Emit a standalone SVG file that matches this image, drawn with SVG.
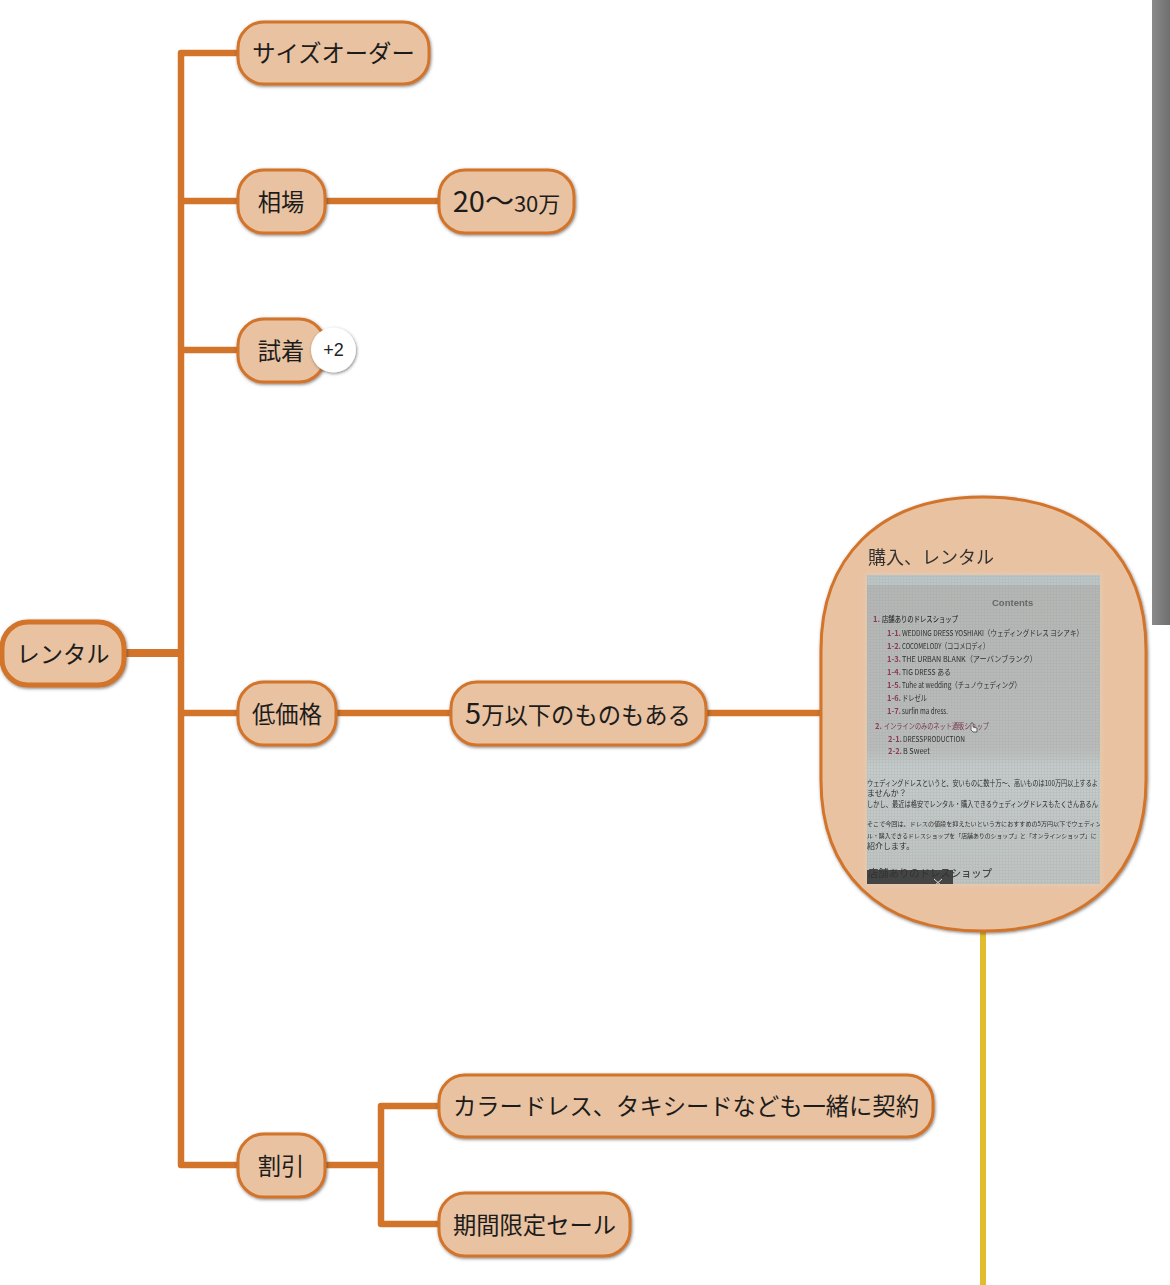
<svg xmlns="http://www.w3.org/2000/svg" width="1170" height="1285" viewBox="0 0 1170 1285">
<defs>
<filter id="sh" x="-20%" y="-20%" width="140%" height="140%"><feDropShadow dx=".8" dy="1.2" stdDeviation="1.4" flood-color="#333" flood-opacity=".6"/></filter>
<filter id="blur" x="-5%" y="-5%" width="110%" height="110%"><feGaussianBlur stdDeviation=".6"/></filter>
<filter id="soft" x="-5%" y="-5%" width="110%" height="110%"><feGaussianBlur stdDeviation=".4"/></filter>
<filter id="glow" x="-5%" y="-5%" width="110%" height="110%"><feGaussianBlur stdDeviation="2"/></filter>
<linearGradient id="bar" x1="0" x2="1" y1="0" y2="0"><stop offset="0" stop-color="#8a8a8a"/><stop offset="1" stop-color="#6f6f6f"/></linearGradient>
<linearGradient id="ph" x1="0" x2="0" y1="0" y2="1"><stop offset="0" stop-color="#b4b6b4"/><stop offset=".56" stop-color="#b9bcba"/><stop offset=".62" stop-color="#c4cbca"/><stop offset="1" stop-color="#bfc4c2"/></linearGradient>
<pattern id="moire" width="3" height="3" patternUnits="userSpaceOnUse"><path d="M0 .5H3M.5 0V3" stroke="#8f9693" stroke-width=".7" opacity=".2"/></pattern>
<clipPath id="phc"><rect x="867" y="575" width="233" height="309"/></clipPath>
<style>
.n{fill:#e9c2a1;stroke:#d2742a;stroke-width:3;filter:url(#sh)}
.t{font-family:"Noto Sans CJK JP","Noto Sans CJK SC",sans-serif;font-size:23.300px;fill:#1c1c1c;text-anchor:middle}
.c{fill:none;stroke:#d2742a;stroke-width:6.500;stroke-linejoin:round}
.s{font-family:"Noto Sans CJK JP",sans-serif;font-size:8px;fill:#2f2f2f}
.r{font-family:"Noto Sans CJK JP",sans-serif;font-size:7.500px;fill:#8a3a55;font-weight:700}
</style>
</defs>
<rect width="1170" height="1285" fill="#fff"/>
<rect x="1152" y="0" width="18" height="625" fill="url(#bar)"/>
<g id="connectors">
<path class="c" d="M125 653H181" style="stroke-width:8"/>
<path class="c" d="M238 53H181V1165H238"/>
<path class="c" d="M181 201H238M181 350H238M181 713H238"/>
<path class="c" d="M325 201H440"/>
<path class="c" d="M335 713H452M705 713H822"/>
<path class="c" d="M325 1165H381"/>
<path class="c" d="M440 1106H381V1224H440"/>
<path d="M983 930V1285" fill="none" stroke="#e1bd2d" stroke-width="6"/>
</g>
<g id="n-rental"><rect class="n" x="2" y="622" width="122" height="63" rx="26" style="stroke-width:5"/><text class="t" x="63" y="663">レンタル</text></g>
<g id="n-size"><rect class="n" x="238" y="22" width="191" height="62" rx="26"/><text class="t" x="333.500" y="62">サイズオーダー</text></g>
<g id="n-souba"><rect class="n" x="238" y="170" width="87" height="63" rx="26"/><text class="t" x="281" y="211">相場</text></g>
<g id="n-price"><rect class="n" x="439" y="170" width="135" height="63" rx="26"/><text class="t" x="506.500" y="212"><tspan font-size="29">20～</tspan><tspan font-size="22">30万</tspan></text></g>
<g id="n-shichaku"><rect class="n" x="238" y="319" width="87" height="63" rx="26"/><text class="t" x="281" y="360">試着</text></g>
<g id="n-plus"><circle cx="333.500" cy="350" r="22.500" fill="#fff" filter="url(#sh)"/><text x="333.500" y="356" text-anchor="middle" font-family="'Liberation Sans',sans-serif" font-size="18" fill="#222">+2</text></g>
<g id="n-low"><rect class="n" x="238" y="682" width="98" height="63" rx="26"/><text class="t" x="287" y="723">低価格</text></g>
<g id="n-5man"><rect class="n" x="451" y="682" width="255" height="63" rx="26"/><text class="t" x="578" y="724"><tspan font-size="29">5</tspan><tspan>万以下のものもある</tspan></text></g>
<g id="n-photo">
<path class="n" d="M983 497C1090 497 1146 560 1146 650V780C1146 870 1090 931 983 931C876 931 821 870 821 780V650C821 560 876 497 983 497Z"/>
<text x="868" y="564" font-family="'Noto Sans CJK JP',sans-serif" font-size="18" fill="#333" filter="url(#soft)">購入、レンタル</text>
<rect x="865" y="573" width="237" height="313" fill="#e0d0c0" opacity=".5" filter="url(#glow)"/>
<g clip-path="url(#phc)">
<rect x="867" y="575" width="233" height="309" fill="url(#ph)"/>
<rect x="867" y="575" width="233" height="10" fill="#bdc6c6"/>
<rect x="867" y="575" width="233" height="309" fill="url(#moire)"/>
<g filter="url(#blur)">
<text x="992" y="606" font-family="'Liberation Sans',sans-serif" font-weight="700" font-size="9.500" fill="#666">Contents</text>
<text class="r" x="873" y="622">1.</text><text class="s" x="882" y="622" textLength="76" lengthAdjust="spacingAndGlyphs" style="fill:#111">店舗ありのドレスショップ</text>
<text class="r" x="887" y="636">1-1.</text><text class="s" x="902" y="636" textLength="181" lengthAdjust="spacingAndGlyphs">WEDDING DRESS YOSHIAKI（ウェディングドレス ヨシアキ）</text>
<text class="r" x="887" y="649">1-2.</text><text class="s" x="902" y="649" textLength="87" lengthAdjust="spacingAndGlyphs">COCOMELODY（ココメロディ）</text>
<text class="r" x="887" y="662">1-3.</text><text class="s" x="902" y="662" textLength="135" lengthAdjust="spacingAndGlyphs">THE URBAN BLANK（アーバンブランク）</text>
<text class="r" x="887" y="675">1-4.</text><text class="s" x="902" y="675" textLength="49" lengthAdjust="spacingAndGlyphs">TIG DRESS ある</text>
<text class="r" x="887" y="688">1-5.</text><text class="s" x="902" y="688" textLength="119" lengthAdjust="spacingAndGlyphs">Tuhe at wedding（チュノウェディング）</text>
<text class="r" x="887" y="701">1-6.</text><text class="s" x="902" y="701" textLength="25" lengthAdjust="spacingAndGlyphs">ドレゼル</text>
<text class="r" x="887" y="714">1-7.</text><text class="s" x="902" y="714" textLength="46" lengthAdjust="spacingAndGlyphs">surfin ma dress.</text>
<text class="r" x="875" y="729">2.</text><text class="s" x="884" y="729" textLength="105" lengthAdjust="spacingAndGlyphs" style="fill:#7a3a50">インラインのみのネット通販ショップ</text>
<text class="r" x="888" y="742">2-1.</text><text class="s" x="903" y="742" textLength="62" lengthAdjust="spacingAndGlyphs">DRESSPRODUCTION</text>
<text class="r" x="888" y="754">2-2.</text><text class="s" x="903" y="754" textLength="27" lengthAdjust="spacingAndGlyphs">B Sweet</text>
<text class="s" x="867" y="786" textLength="231" lengthAdjust="spacingAndGlyphs">ウェディングドレスというと、安いものに数十万～、高いものは100万円以上するよ</text>
<text class="s" x="867" y="796">ませんか？</text>
<text class="s" x="867" y="807" textLength="231" lengthAdjust="spacingAndGlyphs">しかし、最近は格安でレンタル・購入できるウェディングドレスもたくさんあるん</text>
<text class="s" x="867" y="826" font-size="5.800" style="font-size:6.100px">そこで今回は、ドレスの値段を抑えたいという方におすすめの5万円以下でウェディン</text>
<text class="s" x="867" y="838" style="font-size:5.900px">ル・購入できるドレスショップを「店舗ありのショップ」と「オンラインショップ」に</text>
<text class="s" x="867" y="849">紹介します。</text>
<text x="868" y="877" font-family="'Noto Sans CJK JP',sans-serif" font-size="10.500" font-weight="500" fill="#444" textLength="124" lengthAdjust="spacingAndGlyphs">店舗ありのドレスショップ</text>
</g>
<rect x="867" y="870" width="86" height="14" fill="#333" opacity=".88"/>
<path d="M934 879l8 7M942 879l-8 7" stroke="#ddd" stroke-width="1"/>
<path d="M971 723v7l2 2h4v-4l-4-1v-4z" fill="#eee" stroke="#444" stroke-width=".8"/>
</g>
</g>
<g id="n-discount"><rect class="n" x="238" y="1134" width="87" height="63" rx="26"/><text class="t" x="281" y="1175">割引</text></g>
<g id="n-color"><rect class="n" x="439" y="1075" width="494" height="62" rx="26"/><text class="t" x="686" y="1115">カラードレス、タキシードなども一緒に契約</text></g>
<g id="n-sale"><rect class="n" x="439" y="1193" width="191" height="63" rx="26"/><text class="t" x="534.500" y="1234">期間限定セール</text></g>
</svg>
